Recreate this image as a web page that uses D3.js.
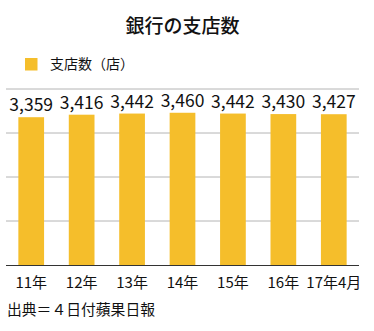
<!DOCTYPE html>
<html>
<head>
<meta charset="utf-8">
<script src="https://cdn.jsdelivr.net/npm/d3@7"></script>
<style>
  html, body { margin: 0; padding: 0; background: #fff; }
  svg { display: block; font-family: "Noto Sans CJK JP", "Noto Sans", sans-serif; }
</style>
</head>
<body>
<svg id="chart" width="374" height="331"></svg>
<script>
// Branch counts by period
const categories = ["11年", "12年", "13年", "14年", "15年", "16年", "17年4月"];
const branches = [3359, 3416, 3442, 3460, 3442, 3430, 3427];
const yTicks = [0, 1000, 2000, 3000, 4000];

const title = "銀行の支店数";
const seriesName = "支店数（店）";
const source = "出典＝４日付蘋果日報";

const barColor = "#F5BE2B";

const svg = d3.select("#chart");
const margin = { left: 6, right: 15, top: 89, bottom: 66 };
const W = 374, H = 331;

const x = d3.scaleBand()
  .domain(categories)
  .range([margin.left, W - margin.right])
  .paddingInner(0.49)
  .paddingOuter(0.245);

const y = d3.scaleLinear()
  .domain([0, 4000])
  .range([H - margin.bottom, margin.top]);

// Horizontal gridlines
svg.append("g")
  .selectAll("line")
  .data(yTicks.slice(1))
  .join("line")
  .attr("x1", margin.left)
  .attr("x2", W - margin.right)
  .attr("y1", d => y(d))
  .attr("y2", d => y(d))
  .attr("stroke", "#b4b4b4")
  .attr("stroke-width", 1);

// Bars
svg.append("g")
  .selectAll("rect")
  .data(branches)
  .join("rect")
  .attr("x", (d, i) => x(categories[i]))
  .attr("width", x.bandwidth())
  .attr("y", d => y(d))
  .attr("height", d => y(0) - y(d))
  .attr("fill", barColor);

// Value labels
svg.append("g")
  .selectAll("text")
  .data(branches)
  .join("text")
  .attr("x", (d, i) => x(categories[i]) + x.bandwidth() / 2)
  .attr("y", d => y(d) - 6)
  .attr("text-anchor", "middle")
  .attr("font-size", 17.5)
  .attr("fill", "#111")
  .text(d => d3.format(",")(d));

// Category axis
const xAxis = svg.append("g")
  .attr("transform", `translate(0,${y(0)})`)
  .call(d3.axisBottom(x).tickSize(0).tickPadding(12));
xAxis.select(".domain")
  .attr("stroke", "#333")
  .attr("d", `M${margin.left},0.5H${W - margin.right}`);
xAxis.selectAll("text")
  .attr("font-size", 15)
  .attr("fill", "#111")
  .attr("font-family", "\"Noto Sans CJK JP\", sans-serif");

// Title
svg.append("text")
  .attr("x", (margin.left + W - margin.right) / 2)
  .attr("y", 33)
  .attr("text-anchor", "middle")
  .attr("font-size", 19)
  .attr("font-weight", 500)
  .attr("fill", "#111")
  .text(title);

// Legend
svg.append("rect")
  .attr("x", 25).attr("y", 58)
  .attr("width", 12.5).attr("height", 12.5)
  .attr("fill", barColor);
svg.append("text")
  .attr("x", 50).attr("y", 69)
  .attr("font-size", 14)
  .attr("fill", "#111")
  .text(seriesName);

// Source note
svg.append("text")
  .attr("x", 7).attr("y", 315)
  .attr("font-size", 14.8)
  .attr("fill", "#111")
  .text(source);
</script>
</body>
</html>
